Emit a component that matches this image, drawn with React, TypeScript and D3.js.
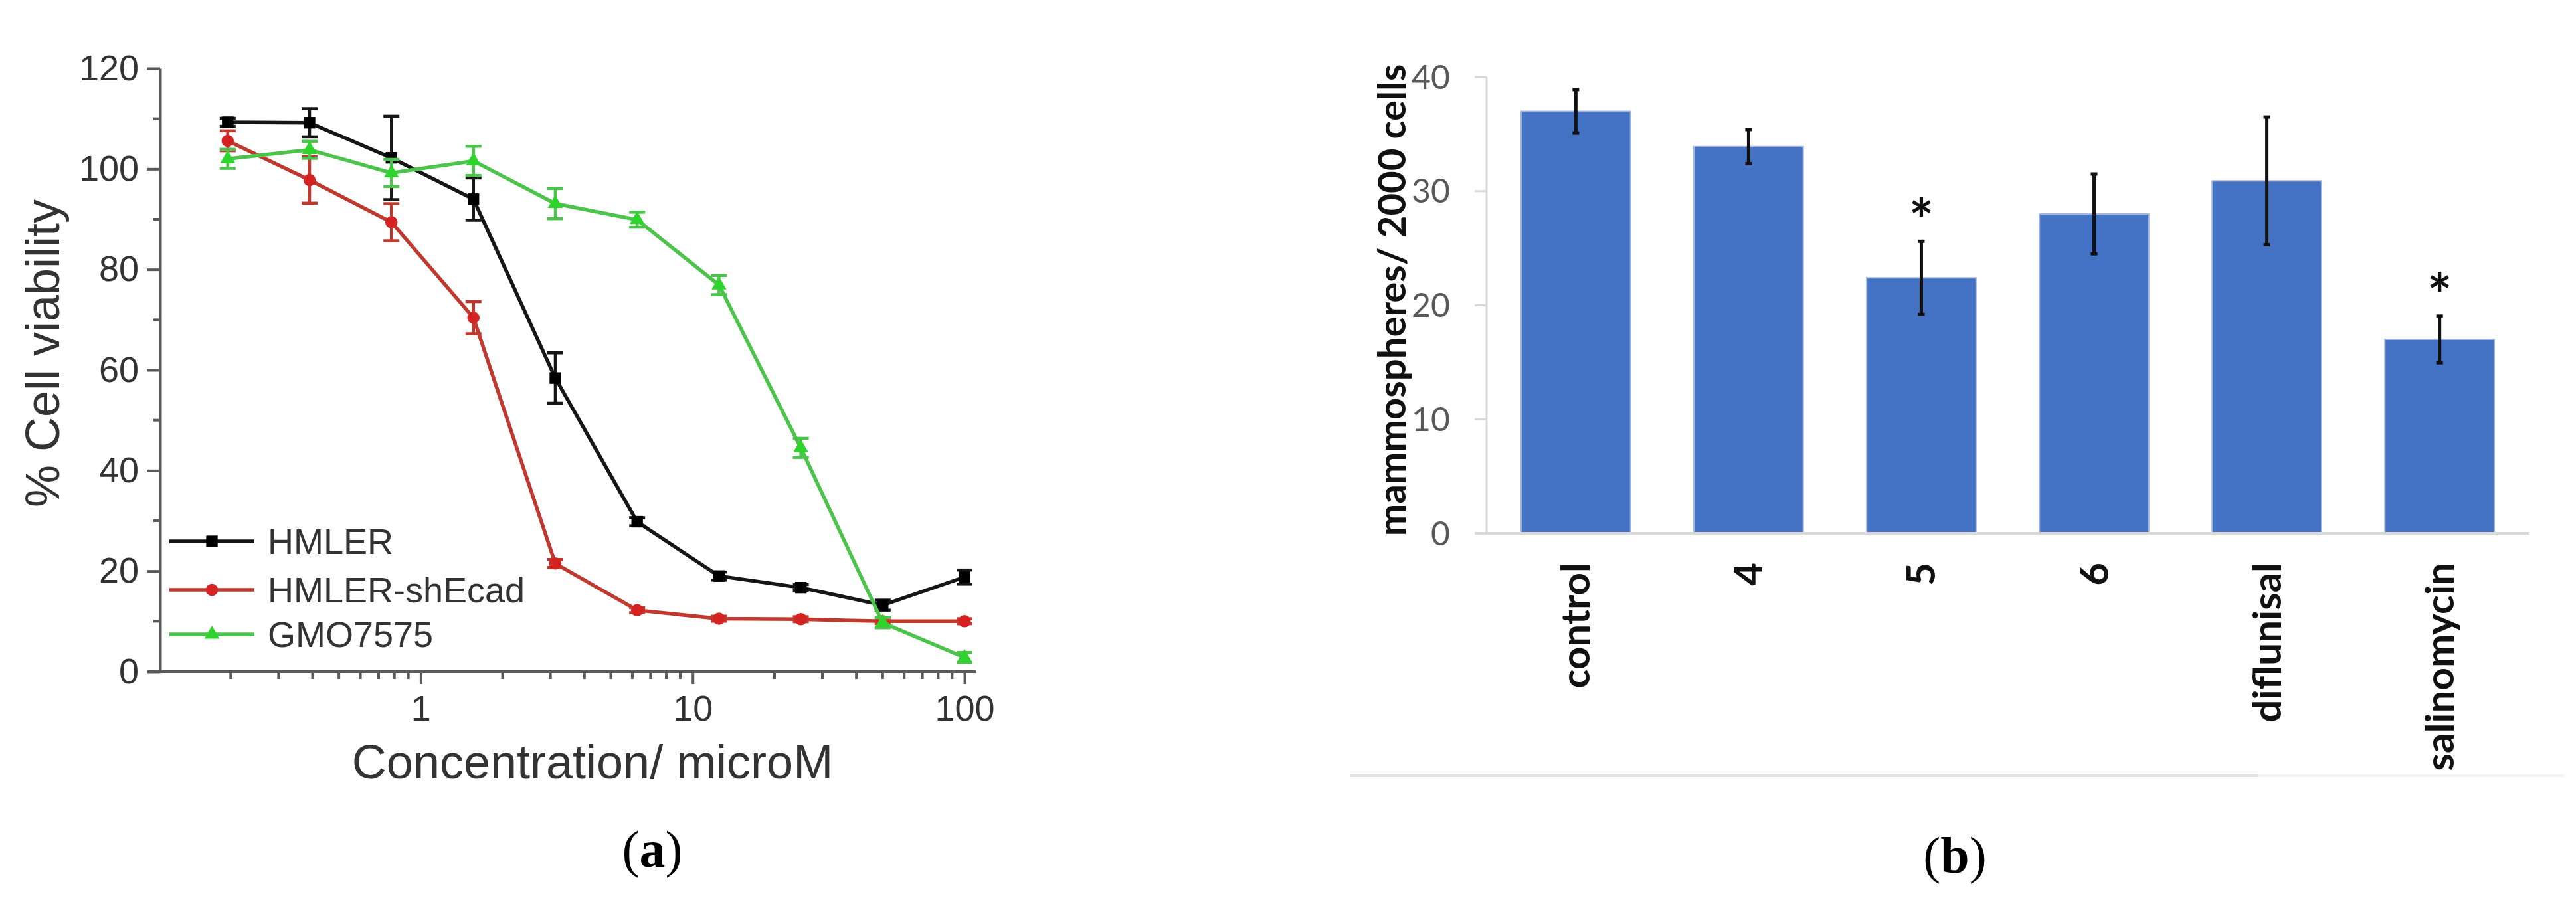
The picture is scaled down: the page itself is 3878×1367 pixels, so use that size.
import { useEffect, useRef } from "react";
import * as d3 from "d3";

// panel (a): cell viability vs concentration
const CONCENTRATIONS = [0.195, 0.39, 0.78, 1.5625, 3.125, 6.25, 12.5, 25, 50, 100];
const HMLER = [109.3, 109.2, 102.2, 94, 58.4, 29.8, 19, 16.7, 13.2, 18.8];
const HMLER_ERR = [0.8, 2.8, 8.3, 4.2, 5, 0.8, 0.8, 0.6, 1, 1.4];
const SHECAD = [105.6, 97.8, 89.4, 70.4, 21.5, 12.2, 10.5, 10.4, 10, 10];
const SHECAD_ERR = [2, 4.6, 3.7, 3.2, 0.8, 0.5, 0.5, 0.5, 0.5, 0.5];
const GMO = [102, 103.8, 99.2, 101.6, 93.1, 89.9, 76.9, 44.5, 9.7, 2.8];
const GMO_ERR = [1.9, 1.7, 2.7, 2.9, 3, 1.5, 1.9, 1.9, 1, 1];
const Y_TICKS_A = [0, 20, 40, 60, 80, 100, 120];
const X_TICKS_A = [1, 10, 100];

// panel (b): mammospheres per 2000 cells
const GROUPS = ["control", "4", "5", "6", "diflunisal", "salinomycin"];
const MEANS = [37, 33.9, 22.4, 28, 30.9, 17];
const ERRS = [1.9, 1.5, 3.2, 3.5, 5.6, 2.05];
const SIGNIFICANT = [false, false, true, false, false, true];
const Y_TICKS_B = [0, 10, 20, 30, 40];

const SERIES = [
  { key: "HMLER", values: HMLER, errs: HMLER_ERR, line: "#161616", fill: "#000", symbol: d3.symbolSquare, size: 300 },
  { key: "HMLER-shEcad", values: SHECAD, errs: SHECAD_ERR, line: "#c0392f", fill: "#d52222", symbol: d3.symbolCircle, size: 270 },
  { key: "GMO7575", values: GMO, errs: GMO_ERR, line: "#4cc44c", fill: "#2cd42c", symbol: d3.symbolTriangle, size: 220 },
];

const SANS = "'Liberation Sans', Arial, sans-serif";
const CALIBRI = "Lato, 'Open Sans', sans-serif";

function App() {
  const ref = useRef(null);

  useEffect(() => {
    const svg = d3.select(ref.current);
    svg.selectAll("*").remove();

    svg.append("rect").attr("width", 3878).attr("height", 1367).attr("fill", "#fff");

    // ---------- panel (a) ----------
    const x = d3.scaleLog().domain([0.11, 110]).range([241, 1469]);
    const y = d3.scaleLinear().domain([0, 120]).range([1011, 103]);
    const axisColor = "#5a5a5a";

    const gy = svg.append("g").attr("transform", "translate(241,0)")
      .call(d3.axisLeft(y).tickValues(Y_TICKS_A).tickSize(20).tickSizeOuter(0).tickPadding(12));
    gy.selectAll("line").attr("stroke", axisColor).attr("stroke-width", 4);
    gy.select(".domain").attr("stroke", axisColor).attr("stroke-width", 4);
    gy.selectAll("text").attr("fill", "#333").style("font-size", "54px").style("font-family", SANS);

    svg.append("g").selectAll("line")
      .data(d3.range(10, 120, 20))
      .join("line")
      .attr("x1", 231).attr("x2", 241)
      .attr("y1", (d) => y(d)).attr("y2", (d) => y(d))
      .attr("stroke", axisColor).attr("stroke-width", 4);

    const gx = svg.append("g").attr("transform", "translate(0,1011)")
      .call(d3.axisBottom(x).tickValues(X_TICKS_A).tickFormat(d3.format("d")).tickSize(19).tickSizeOuter(0).tickPadding(17));
    gx.selectAll("line").attr("stroke", axisColor).attr("stroke-width", 4);
    gx.select(".domain").attr("stroke", axisColor).attr("stroke-width", 4).attr("d", "M222,0H1469");
    gx.selectAll("text").attr("fill", "#333").style("font-size", "54px").style("font-family", SANS);

    const minor = [];
    [0.1, 1, 10].forEach((base) => {
      for (let k = 2; k <= 9; k++) minor.push(base * k);
    });
    svg.append("g").selectAll("line")
      .data(minor)
      .join("line")
      .attr("x1", (d) => x(d)).attr("x2", (d) => x(d))
      .attr("y1", 1011).attr("y2", 1022)
      .attr("stroke", axisColor).attr("stroke-width", 4);

    svg.append("text")
      .attr("transform", "translate(64,532) rotate(-90)")
      .attr("text-anchor", "middle").attr("dy", "0.35em")
      .attr("fill", "#333").style("font-size", "72px").style("font-family", SANS)
      .text("% Cell viability");

    svg.append("text")
      .attr("x", 892).attr("y", 1172)
      .attr("text-anchor", "middle")
      .attr("fill", "#333").style("font-size", "72px").style("font-family", SANS)
      .text("Concentration/ microM");

    SERIES.forEach((s) => {
      const pts = CONCENTRATIONS.map((c, i) => ({ c, v: s.values[i], e: s.errs[i] }));
      const line = d3.line().x((d) => x(d.c)).y((d) => y(d.v));
      const g = svg.append("g");
      g.append("path").datum(pts)
        .attr("fill", "none").attr("stroke", s.line).attr("stroke-width", 5.5)
        .attr("d", line);
      const eb = g.selectAll(".eb").data(pts).join("g").attr("stroke", s.line).attr("stroke-width", 4.5);
      eb.append("line")
        .attr("x1", (d) => x(d.c)).attr("x2", (d) => x(d.c))
        .attr("y1", (d) => y(d.v - d.e)).attr("y2", (d) => y(d.v + d.e));
      eb.append("line")
        .attr("x1", (d) => x(d.c) - 12).attr("x2", (d) => x(d.c) + 12)
        .attr("y1", (d) => y(d.v + d.e)).attr("y2", (d) => y(d.v + d.e));
      eb.append("line")
        .attr("x1", (d) => x(d.c) - 12).attr("x2", (d) => x(d.c) + 12)
        .attr("y1", (d) => y(d.v - d.e)).attr("y2", (d) => y(d.v - d.e));
      g.selectAll(".pt").data(pts).join("path")
        .attr("transform", (d) => `translate(${x(d.c)},${y(d.v)})`)
        .attr("d", d3.symbol(s.symbol, s.size))
        .attr("fill", s.fill);
    });

    // legend
    const legY = [815, 888, 955];
    SERIES.forEach((s, i) => {
      const g = svg.append("g").attr("transform", `translate(0,${legY[i]})`);
      g.append("line").attr("x1", 255).attr("x2", 383).attr("stroke", s.line).attr("stroke-width", 5.5);
      g.append("path").attr("transform", "translate(319,0)").attr("d", d3.symbol(s.symbol, s.size)).attr("fill", s.fill);
      g.append("text").attr("x", 403).attr("dy", "0.36em")
        .attr("fill", "#333").style("font-size", "54px").style("font-family", SANS)
        .text(s.key);
    });

    // ---------- panel (b) ----------
    const xb = d3.scaleBand().domain(GROUPS).range([2238, 3807]).paddingInner(0.367).paddingOuter(0.2);
    const yb = d3.scaleLinear().domain([0, 40]).range([803, 116]);

    svg.append("line").attr("x1", 2238).attr("x2", 2238).attr("y1", 116).attr("y2", 803)
      .attr("stroke", "#d9d9d9").attr("stroke-width", 3);
    svg.append("g").selectAll("line").data(Y_TICKS_B).join("line")
      .attr("x1", 2220).attr("x2", 2238)
      .attr("y1", (d) => yb(d)).attr("y2", (d) => yb(d))
      .attr("stroke", "#d9d9d9").attr("stroke-width", 3);
    svg.append("g").selectAll("text").data(Y_TICKS_B).join("text")
      .attr("x", 2183).attr("y", (d) => yb(d)).attr("dy", "0.35em")
      .attr("text-anchor", "end").attr("fill", "#595959")
      .style("font-size", "50px").style("font-family", CALIBRI)
      .text((d) => d);

    const bars = GROUPS.map((g, i) => ({ g, v: MEANS[i], e: ERRS[i], sig: SIGNIFICANT[i] }));
    svg.append("g").selectAll("rect").data(bars).join("rect")
      .attr("x", (d) => xb(d.g)).attr("width", xb.bandwidth())
      .attr("y", (d) => yb(d.v)).attr("height", (d) => yb(0) - yb(d.v))
      .attr("fill", "#4472c4").attr("stroke", "#9db4e0").attr("stroke-width", 2);

    svg.append("line").attr("x1", 2220).attr("x2", 3807).attr("y1", 803).attr("y2", 803)
      .attr("stroke", "#d9d9d9").attr("stroke-width", 4);

    const cx = (d) => xb(d.g) + xb.bandwidth() / 2;
    const ebb = svg.append("g").selectAll("g").data(bars).join("g").attr("stroke", "#111").attr("stroke-width", 5);
    ebb.append("line").attr("x1", cx).attr("x2", cx)
      .attr("y1", (d) => yb(d.v - d.e)).attr("y2", (d) => yb(d.v + d.e));
    ebb.append("line").attr("x1", (d) => cx(d) - 5).attr("x2", (d) => cx(d) + 5)
      .attr("y1", (d) => yb(d.v + d.e)).attr("y2", (d) => yb(d.v + d.e));
    ebb.append("line").attr("x1", (d) => cx(d) - 5).attr("x2", (d) => cx(d) + 5)
      .attr("y1", (d) => yb(d.v - d.e)).attr("y2", (d) => yb(d.v - d.e));

    svg.append("g").selectAll("text").data(bars.filter((d) => d.sig)).join("text")
      .attr("x", cx).attr("y", (d) => yb(d.v + d.e) - 53).attr("dy", "0.6em")
      .attr("text-anchor", "middle").attr("fill", "#111")
      .style("font-size", "88px").style("font-weight", "bold").style("font-family", CALIBRI)
      .text("*");

    svg.append("g").selectAll("text").data(GROUPS).join("text")
      .attr("transform", (d) => `translate(${xb(d) + xb.bandwidth() / 2},847) rotate(-90)`)
      .attr("text-anchor", "end").attr("dy", "0.35em")
      .attr("fill", "#111").style("font-size", "60px").style("font-weight", "bold").style("font-family", CALIBRI)
      .text((d) => d);

    svg.append("text")
      .attr("transform", "translate(2096,452) rotate(-90)")
      .attr("text-anchor", "middle").attr("dy", "0.35em")
      .attr("fill", "#111").style("font-size", "58px").style("font-weight", "bold").style("font-family", CALIBRI)
      .text("mammospheres/ 2000 cells");

    svg.append("line").attr("x1", 2032).attr("x2", 3400).attr("y1", 1168).attr("y2", 1168)
      .attr("stroke", "#e3e3e3").attr("stroke-width", 4);
    svg.append("line").attr("x1", 3400).attr("x2", 3860).attr("y1", 1168).attr("y2", 1168)
      .attr("stroke", "#f3f3f3").attr("stroke-width", 4);

    // panel captions
    [["a", 982, 1278], ["b", 2943, 1287]].forEach(([letter, px, py]) => {
      const t = svg.append("text").attr("x", px).attr("y", py).attr("dy", "0.35em")
        .attr("text-anchor", "middle").attr("fill", "#000")
        .style("font-size", "78px").style("font-family", "'Liberation Serif', 'Times New Roman', serif");
      t.append("tspan").text("(");
      t.append("tspan").style("font-weight", "bold").text(letter);
      t.append("tspan").text(")");
    });
  }, []);

  return (
    <div style={{ position: "absolute", left: 0, top: 0 }}>
      <svg ref={ref} width={3878} height={1367} />
    </div>
  );
}

export default App;
